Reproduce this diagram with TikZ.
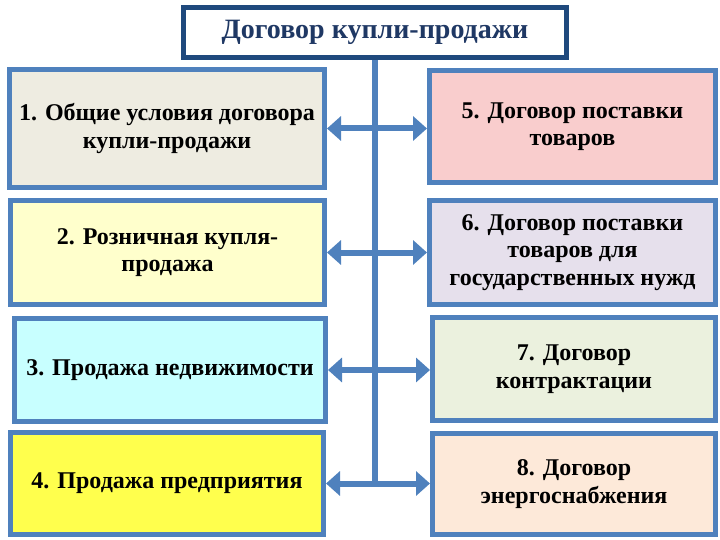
\documentclass[tikz,border=0pt]{standalone}
\usepackage{fontspec}
\setmainfont{Liberation Serif}
\usetikzlibrary{arrows.meta}
\definecolor{bord}{HTML}{4F81BD}
\definecolor{navy}{HTML}{1F497D}
\definecolor{navytext}{HTML}{1F3864}
\definecolor{f1}{HTML}{EEECE1}
\definecolor{f2}{HTML}{FFFFCC}
\definecolor{f3}{HTML}{C8FFFF}
\definecolor{f4}{HTML}{FFFF4D}
\definecolor{f5}{HTML}{F9CDCD}
\definecolor{f6}{HTML}{E6E0EC}
\definecolor{f7}{HTML}{EBF1DE}
\definecolor{f8}{HTML}{FDE9D9}
\tikzset{
  boxstyle/.style={draw=bord, line width=5pt, inner sep=0pt, align=center,
    font=\bfseries\fontsize{24}{27.5}\selectfont, text=black},
  titlestyle/.style={draw=navy, line width=5pt, fill=white, inner sep=0pt,
    font=\bfseries\fontsize{28}{30}\selectfont, text=navytext},
  conn/.style={draw=bord, line width=6pt},
  arr/.style={draw=bord, line width=6pt, {Triangle[length=14pt,width=24pt]}-{Triangle[length=14pt,width=24pt]}}
}
\begin{document}
\begin{tikzpicture}[x=1pt,y=-1pt]
\useasboundingbox (0,0) rectangle (720,540);
\node[titlestyle, minimum width=383pt, minimum height=50pt] (title) at (375,32.5) {Договор купли-продажи};
\node[boxstyle, fill=f1, minimum width=315pt, minimum height=118pt] (b1) at (167,128.5) {1. Общие условия договора\\купли-продажи};
\node[boxstyle, fill=f2, minimum width=314pt, minimum height=104pt] (b2) at (167.5,252.5) {2. Розничная купля-\\продажа};
\node[boxstyle, fill=f3, minimum width=311pt, minimum height=103pt] (b3) at (170,370) {3. Продажа недвижимости};
\node[boxstyle, fill=f4, minimum width=313pt, minimum height=102pt] (b4) at (167,483.5) {4. Продажа предприятия};
\node[boxstyle, fill=f5, minimum width=286pt, minimum height=112pt] (b5) at (572.5,126.5) {5. Договор поставки\\товаров};
\node[boxstyle, fill=f6, minimum width=286pt, minimum height=104pt] (b6) at (572.5,252.5) {6. Договор поставки\\товаров для\\государственных нужд};
\node[boxstyle, fill=f7, minimum width=283pt, minimum height=103pt] (b7) at (574,369) {7. Договор\\контрактации};
\node[boxstyle, fill=f8, minimum width=283pt, minimum height=101pt] (b8) at (574,484) {8. Договор\\энергоснабжения};
\coordinate (vend) at (title.south |- b4.east);
\draw[conn] (title.south) -- (vend);
\draw[arr] (b1.east) -- (b1.east -| b5.west);
\draw[arr] (b2.east) -- (b2.east -| b6.west);
\draw[arr] (b3.east) -- (b3.east -| b7.west);
\draw[arr] (b4.east) -- (b4.east -| b8.west);
\end{tikzpicture}
\end{document}
